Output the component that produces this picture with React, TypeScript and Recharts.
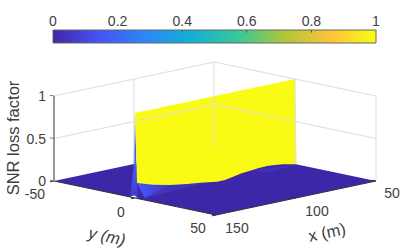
import { Area, ComposedChart, ReferenceDot, ReferenceLine, ReferenceArea, XAxis, YAxis } from "recharts";

type Vec3 = [number, number, number];

const COLOR_TICKS = [0, 0.2, 0.4, 0.6, 0.8, 1];
const PARULA = ["#3e26a8", "#4752f4", "#2d87f7", "#11b1d6", "#37c897", "#abc739", "#fec338", "#f9fb15"];

const X_TICKS = [150, 100, 50];
const Y_TICKS = [-50, 0, 50];
const Z_TICKS = [0, 0.5, 1];

const WALL_Y = 0;
const WALL_TOP_Z = 1;
const WALL_X = [148.75, 138.75, 128.1, 117.5, 109.4, 98.75, 93.75, 88.75, 83.3, 78.1, 73.1, 67.5, 62.5, 57.5, 50];
const WALL_BASE_Z = [0.172, 0.112, 0.066, 0.035, 0.018, -0.013, -0.013, 0.006, 0.024, 0.034, 0.042, 0.046, 0.038, 0.026, 0];

// facets around the foot of the ridge, [x, y, z]
const FOOT_FAINT: Vec3[] = [[148.75, 0, 0.172], [106, 0, 0], [147, 3, 0]];
const FOOT_BRIGHT: Vec3[] = [[148.75, 0, 0.172], [128.1, 0, 0.066], [147, 3, 0]];
const END_FACE: Vec3[] = [[150, -3, 0], [150, -1, 0.33], [150, 0, 1], [148.75, 0, 0.172], [150, 2, 0]];
const FLOOR_GAP: Vec3[] = [[150, -3, 0], [150, 2, 0], [150, -0.5, 0.03]];
const FAR_FOOT: Vec3[] = [[78, 0, 0.034], [50, 1, 0], [70, 5, 0]];

const project = ([x, y, z]: Vec3) => ({
  sx: 54 + (y + 50) * 1.62 + (150 - x) * 1.6,
  sy: 181 + (y + 50) * 0.34 - (150 - x) * 0.34 - z * 85,
});

// upper and lower edge of a polygon at each of its vertices, for a ranged Area
function toBand(vertices: Vec3[]) {
  const pts = vertices.map(project);
  const xs = [...new Set(pts.map((p) => p.sx))].sort((a, b) => a - b);
  return xs.map((sx) => {
    const ys: number[] = [];
    pts.forEach((a, i) => {
      const b = pts[(i + 1) % pts.length];
      if (a.sx === b.sx) {
        if (a.sx === sx) ys.push(a.sy, b.sy);
      } else if ((a.sx - sx) * (b.sx - sx) <= 0) {
        ys.push(a.sy + ((sx - a.sx) / (b.sx - a.sx)) * (b.sy - a.sy));
      }
    });
    return { sx, band: [Math.min(...ys), Math.max(...ys)] };
  });
}

const FLOOR = toBand([[150, -50, 0], [50, -50, 0], [50, 50, 0], [150, 50, 0]]);
const WALL = toBand([
  [150, WALL_Y, WALL_TOP_Z],
  [50, WALL_Y, WALL_TOP_Z],
  ...WALL_X.map((x, i): Vec3 => [x, i === WALL_X.length - 1 ? 1 : WALL_Y, WALL_BASE_Z[i]]).reverse(),
]);

const gridSegments: [Vec3, Vec3][] = [
  ...[0.5, 1].flatMap((z): [Vec3, Vec3][] => [
    [[150, -50, z], [50, -50, z]],
    [[50, -50, z], [50, 50, z]],
  ]),
  [[100, -50, 0], [100, -50, 1]],
  [[50, -50, 0], [50, -50, 1]],
  [[50, 0, 0], [50, 0, 1]],
  [[50, 50, 0], [50, 50, 1]],
];

const darkSegments: [Vec3, Vec3][] = [
  [[150, -50, 0], [150, 50, 0]],
  [[150, 50, 0], [50, 50, 0]],
  ...Y_TICKS.map((y): [Vec3, Vec3] => [[150, y, 0], [152.5, y, 0]]),
  ...X_TICKS.map((x): [Vec3, Vec3] => [[x, 50, 0], [x, 47.5, 0]]),
];

const zSegments: [Vec3, Vec3][] = [
  [[150, -50, 0], [150, -50, 1]],
  ...Z_TICKS.map((z): [Vec3, Vec3] => [[150, -50, z], [150, -52.5, z]]),
];

const TICK_FONT = { fontFamily: "Liberation Sans", fontSize: 14, fill: "#404040" };

// [text, x, y, anchor] for the numbers round the box
const tickTexts: [string, number, number, string][] = [
  ...Z_TICKS.map((z): [string, number, number, string] => [String(z), 46, project([150, -50, z]).sy, "end"]),
  ["-50", 45, 194, "end"],
  ["0", 121, 212, "middle"],
  ["50", 198, 228, "middle"],
  ["150", 237, 228, "middle"],
  ["100", 317, 211, "middle"],
  ["50", 392, 193, "middle"],
];

const axisTitles: { text: string; x: number; y: number; angle: number; italic: boolean }[] = [
  { text: "SNR loss factor", x: 13, y: 138, angle: -90, italic: false },
  { text: "y (m)", x: 107, y: 236, angle: 12, italic: true },
  { text: "x (m)", x: 327, y: 232, angle: -12, italic: false },
];

function segmentLine(seg: [Vec3, Vec3], stroke: string, width: number, key: string) {
  const a = project(seg[0]);
  const b = project(seg[1]);
  return (
    <ReferenceLine
      key={key}
      segment={[{ x: a.sx, y: a.sy }, { x: b.sx, y: b.sy }]}
      stroke={stroke}
      strokeWidth={width}
      ifOverflow="visible"
    />
  );
}

function facetArea(data: { sx: number; band: number[] }[], fill: string, key: string) {
  return (
    <Area
      key={key}
      data={data}
      dataKey="band"
      type="linear"
      fill={fill}
      fillOpacity={1}
      stroke="none"
      dot={false}
      activeDot={false}
      isAnimationActive={false}
    />
  );
}

export default function App() {
  return (
    <div style={{ position: "absolute", left: 0, top: 0, width: 415, height: 249 }}>
      <div style={{ position: "absolute", left: 0, top: 0 }}>
        <ComposedChart width={415} height={249} margin={{ top: 0, right: 0, bottom: 0, left: 0 }}>
          <defs>
            <linearGradient id="footBright" x1="0" y1="0" x2="1" y2="0">
              <stop offset="0%" stopColor="#3f5cff" />
              <stop offset="100%" stopColor="#4232c4" />
            </linearGradient>
            <linearGradient id="endFace" x1="0" y1="0" x2="0" y2="1">
              <stop offset="0%" stopColor="#4470ff" />
              <stop offset="75%" stopColor="#3f55f0" />
              <stop offset="100%" stopColor="#4234bc" />
            </linearGradient>
          </defs>
          <XAxis dataKey="sx" type="number" domain={[0, 415]} hide allowDataOverflow />
          <YAxis type="number" domain={[0, 249]} reversed hide width={0} allowDataOverflow />
          {gridSegments.map((seg, i) => segmentLine(seg, "#dcdcdc", 1, `grid-${i}`))}
          {facetArea(FLOOR, PARULA[0], "floor")}
          {facetArea(toBand(FOOT_FAINT), "#4034b8", "foot-faint")}
          {facetArea(toBand(FOOT_BRIGHT), "url(#footBright)", "foot-bright")}
          {facetArea(toBand(FAR_FOOT), "#4230bc", "far-foot")}
          {facetArea(toBand(END_FACE), "url(#endFace)", "end-face")}
          {facetArea(toBand(FLOOR_GAP), "#ffffff", "gap")}
          {facetArea(WALL, PARULA[7], "wall")}
          {darkSegments.map((seg, i) => segmentLine(seg, "#333333", 1, `axis-${i}`))}
          {zSegments.map((seg, i) => segmentLine(seg, "#777777", i === 0 ? 1.5 : 1, `z-${i}`))}
          {tickTexts.map(([text, x, y, anchor], i) => (
            <ReferenceDot
              key={`tick-${i}`}
              x={x}
              y={y}
              r={0}
              ifOverflow="visible"
              shape={(p: any) => (
                <text x={p.cx} y={p.cy} dy="0.36em" textAnchor={anchor} {...TICK_FONT}>
                  {text}
                </text>
              )}
            />
          ))}
          {axisTitles.map((t) => (
            <ReferenceDot
              key={t.text}
              x={t.x}
              y={t.y}
              r={0}
              ifOverflow="visible"
              shape={(p: any) => (
                <text
                  x={p.cx}
                  y={p.cy}
                  dy="0.36em"
                  textAnchor="middle"
                  fontFamily="Liberation Sans"
                  fontSize={16.5}
                  fontStyle={t.italic ? "italic" : "normal"}
                  fill="#404040"
                  transform={`rotate(${t.angle} ${p.cx} ${p.cy})`}
                >
                  {t.text}
                </text>
              )}
            />
          ))}
        </ComposedChart>
      </div>
      <div style={{ position: "absolute", left: 0, top: 0 }}>
        <ComposedChart
          width={415}
          height={50}
          data={[{ v: 0, h: 1 }, { v: 1, h: 1 }]}
          margin={{ top: 0, right: 39, bottom: 7, left: 53 }}
        >
          <defs>
            <linearGradient id="parula" x1="0" y1="0" x2="1" y2="0">
              {PARULA.map((c, i) => (
                <stop key={c} offset={`${(i / (PARULA.length - 1)) * 100}%`} stopColor={c} />
              ))}
            </linearGradient>
          </defs>
          <XAxis
            dataKey="v"
            type="number"
            orientation="top"
            domain={[0, 1]}
            ticks={COLOR_TICKS}
            interval={0}
            height={30}
            tickLine={false}
            axisLine={false}
            tickSize={3}
            tickMargin={1}
            tick={TICK_FONT}
          />
          <YAxis type="number" domain={[0, 1]} hide width={0} />
          <Area dataKey="h" type="linear" fill="url(#parula)" fillOpacity={1} stroke="none" dot={false} activeDot={false} isAnimationActive={false} />
          <ReferenceArea x1={0} x2={1} y1={0} y2={1} fill="none" stroke="#666666" strokeWidth={1} ifOverflow="visible" />
          {COLOR_TICKS.slice(1, -1).map((t) => (
            <ReferenceLine key={t} segment={[{ x: t, y: 1 }, { x: t, y: 0.8 }]} stroke="#555555" strokeWidth={1} />
          ))}
        </ComposedChart>
      </div>
    </div>
  );
}
